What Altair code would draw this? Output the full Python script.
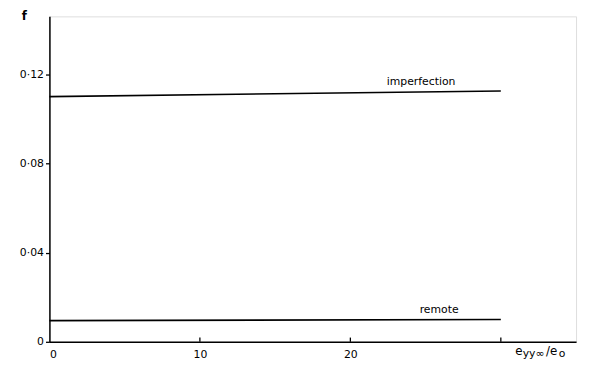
import altair as alt
import pandas as pd

# ---- data ----
x_ends = [0, 30]
imperfection = [0.110, 0.1125]
remote = [0.0095, 0.0100]
series = ["imperfection", "remote"]
x_tick_values = [0, 10, 20, 30]
x_label_values = [0, 10, 20]
y_tick_values = [0, 0.04, 0.08, 0.12]

# label anchor points (x position along each line)
label_x = [24.7, 25.9]

df = pd.DataFrame({
    "x": x_ends * 2,
    "f": imperfection + remote,
    "s": [series[0]] * 2 + [series[1]] * 2,
})

lab = pd.DataFrame({
    "x": label_x,
    "f": [imperfection[0] + (imperfection[1] - imperfection[0]) * label_x[0] / 30,
          remote[0] + (remote[1] - remote[0]) * label_x[1] / 30],
    "s": series,
})

ticks = pd.DataFrame({"x": x_tick_values[1:], "y": [0] * 3, "y2": [0.0019] * 3})

# x axis title pieces: e_{yy∞}/e_o
big_parts = pd.DataFrame({"t": ["e", "/e"], "x": [30.95, 33.0], "y": [0, 0]})
small_parts = pd.DataFrame({"t": ["yy∞", "o"], "x": [31.45, 33.85], "y": [0, 0]})

FONT = "DejaVu Sans"
xs = alt.Scale(domain=[0, 35], nice=False, zero=False)
ys = alt.Scale(domain=[0, 0.146], nice=False)

lines = alt.Chart(df).mark_line(color="black", strokeWidth=1.6).encode(
    x=alt.X("x:Q", scale=xs, axis=alt.Axis(
        values=x_label_values, ticks=False, title=None, grid=False,
        labelFontSize=11, labelPadding=7, labelColor="black", labelFont=FONT,
        domainColor="black", domainWidth=1.5)),
    y=alt.Y("f:Q", scale=ys, axis=alt.Axis(
        values=y_tick_values, grid=False,
        labelExpr="datum.value == 0 ? '0' : replace(format(datum.value, '.2f'), '.', '·')",
        labelFontSize=11, labelColor="black", labelFont=FONT, labelPadding=2,
        tickSize=4, tickColor="black", tickWidth=1.3,
        domainColor="black", domainWidth=1.5,
        title="f", titleAngle=0, titleX=-26, titleY=-1, titleAlign="center",
        titleBaseline="middle", titleFontSize=12, titleFont=FONT,
        titleFontWeight="bold", titleColor="black")),
    detail="s:N",
)

labels = alt.Chart(lab).mark_text(
    dy=-10, fontSize=11, font=FONT, color="black", baseline="middle", align="center"
).encode(x=alt.X("x:Q", scale=xs), y=alt.Y("f:Q", scale=ys), text="s:N")

tick_rules = alt.Chart(ticks).mark_rule(color="black", strokeWidth=1.3).encode(
    x=alt.X("x:Q", scale=xs), y=alt.Y("y:Q", scale=ys), y2="y2:Q")

big = alt.Chart(big_parts).mark_text(
    align="left", baseline="middle", dy=9, fontSize=12, font=FONT, color="black"
).encode(x=alt.X("x:Q", scale=xs), y=alt.Y("y:Q", scale=ys), text="t:N")

small = alt.Chart(small_parts).mark_text(
    align="left", baseline="middle", dy=12, fontSize=11, font=FONT, color="black"
).encode(x=alt.X("x:Q", scale=xs), y=alt.Y("y:Q", scale=ys), text="t:N")

chart = alt.layer(lines, labels, tick_rules, big, small).properties(
    width=534, height=330,
    autosize=alt.AutoSizeParams(type="none"),
    padding={"left": 42, "top": 6, "right": 5, "bottom": 18},
).configure_view(stroke=None).configure(background="white")

chart.save("out.html", embed_options={"renderer": "svg", "actions": False})
